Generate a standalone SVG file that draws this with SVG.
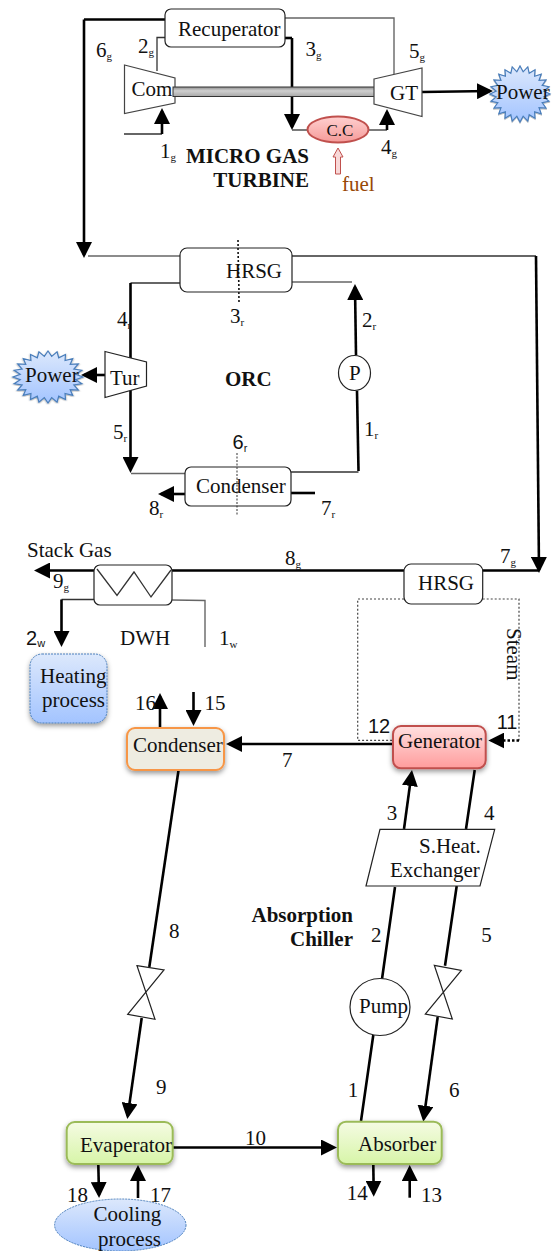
<svg xmlns="http://www.w3.org/2000/svg" width="552" height="1251" viewBox="0 0 552 1251">
<style>
text{font-family:"Liberation Serif","Times New Roman",serif;font-size:21px;fill:#111}
.b{font-weight:bold}
.s{font-family:"Liberation Sans",Arial,sans-serif;font-size:20px}
.sub{font-size:11px}
.box{fill:#fff;stroke:#222;stroke-width:1.2}
.th{fill:none;stroke:#333;stroke-width:1.3}
.gr{fill:none;stroke:#666;stroke-width:1.4}
.tk{fill:none;stroke:#000;stroke-width:2.6}
.ar{marker-end:url(#h)}
.dot{fill:none;stroke:#444;stroke-width:1.2;stroke-dasharray:2 2}
.star{fill:url(#bl);stroke:#4a7ebb;stroke-width:1.2;filter:url(#sh)}
</style>
<defs>
<marker id="h" markerUnits="userSpaceOnUse" markerWidth="16" markerHeight="16" refX="13" refY="8" orient="auto"><path d="M0,0L16,8L0,16z" fill="#000"/></marker>
<linearGradient id="bl" x1="0" y1="0" x2="0" y2="1"><stop offset="0" stop-color="#dce8fc"/><stop offset="1" stop-color="#a3c4ff"/></linearGradient>
<linearGradient id="gn" x1="0" y1="0" x2="0" y2="1"><stop offset="0" stop-color="#f5fbe3"/><stop offset="1" stop-color="#d7f5a8"/></linearGradient>
<linearGradient id="rd" x1="0" y1="0" x2="0" y2="1"><stop offset="0" stop-color="#ffe0e0"/><stop offset="1" stop-color="#ff9c9c"/></linearGradient>
<linearGradient id="cc" x1="0" y1="0" x2="0" y2="1"><stop offset="0" stop-color="#ffd0d0"/><stop offset="1" stop-color="#f59a98"/></linearGradient>
<linearGradient id="sf" x1="0" y1="0" x2="0" y2="1"><stop offset="0" stop-color="#8c8c8c"/><stop offset=".4" stop-color="#d0d0d0"/><stop offset="1" stop-color="#a8a8a8"/></linearGradient>
<filter id="sh" x="-20%" y="-20%" width="140%" height="150%"><feDropShadow dx="0" dy="2.5" stdDeviation="2.5" flood-color="#000" flood-opacity=".4"/></filter>
<polygon id="st" vector-effect="non-scaling-stroke" points="100,0 79.3,10.5 96.6,25.9 73.9,30.6 86.6,50 63.4,48.7 70.7,70.7 48.7,63.4 50,86.6 30.6,73.9 25.9,96.6 10.5,79.3 0,100 -10.5,79.3 -25.9,96.6 -30.6,73.9 -50,86.6 -48.7,63.4 -70.7,70.7 -63.4,48.7 -86.6,50 -73.9,30.6 -96.6,25.9 -79.3,10.5 -100,0 -79.3,-10.5 -96.6,-25.9 -73.9,-30.6 -86.6,-50 -63.4,-48.7 -70.7,-70.7 -48.7,-63.4 -50,-86.6 -30.6,-73.9 -25.9,-96.6 -10.5,-79.3 0,-100 10.5,-79.3 25.9,-96.6 30.6,-73.9 50,-86.6 48.7,-63.4 70.7,-70.7 63.4,-48.7 86.6,-50 73.9,-30.6 96.6,-25.9 79.3,-10.5"/>
</defs>

<g id="connectors">
<path class="tk ar" d="M84,19.5H165M84,19.5V255"/>
<path class="gr" d="M285,18H394V74"/>
<path class="th" d="M165,37.5H157V71"/>
<path class="tk" d="M285,38H292"/>
<path class="tk ar" d="M292,38V127"/>
<path class="th" d="M292,130H308"/>
<path class="tk ar" d="M422,92L490,91"/>
<path class="th" d="M369,130H387"/>
<path class="tk ar" d="M387,130V112"/>
<path class="th" d="M124,134H162"/>
<path class="tk ar" d="M162,134V111"/>
<path class="gr" d="M88,256H180"/>
<path class="th" d="M292,256H536"/>
<path class="tk ar" d="M536,256L539,570"/>
<path class="gr" d="M292,282H352"/>
<path class="tk ar" d="M356,355L355,287"/>
<path class="tk" d="M357,391L358.5,471"/>
<path class="th" d="M358.5,472L291,472"/>
<path class="th" d="M180,283H130.5"/>
<path class="tk" d="M130.5,283V358"/>
<path class="tk ar" d="M130.5,390V470"/>
<path class="gr" d="M131,473.5H185"/>
<path class="tk ar" d="M105,375H84"/>
<path class="tk ar" d="M185,494H161"/>
<path class="tk" d="M291,493H315"/>
<path class="tk ar" d="M94,570.5H37"/>
<path class="tk" d="M172,570.5H404M482,570.5H539"/>
<path class="th" d="M94,599.5H61.5"/>
<path class="tk ar" d="M61.5,599.5V644"/>
<path class="gr" d="M172,600L205,600.5V647"/>
<path class="tk ar" d="M160,728V696"/>
<path class="tk ar" d="M193.5,692V723"/>
<path class="tk ar" d="M393,744H229"/>
<path class="dot" d="M404,599H357.7V740.3H393M482.7,599H519V740.5"/>
<path class="tk ar" style="stroke-dasharray:2.5 2" d="M519,740.5H491.3"/>
<path class="tk" d="M179,767L149.3,967"/>
<path class="tk ar" d="M141.7,1018L127.7,1116"/>
<path class="tk ar" d="M172,1147.5H334"/>
<path class="tk ar" d="M98.3,1164L99,1195"/>
<path class="tk ar" d="M138,1198V1168"/>
<path class="tk" d="M361,1121L373.3,1035M382,979L395,887"/>
<path class="tk ar" d="M404,829L411.6,773"/>
<path class="tk" d="M466,829L474.7,770M456.7,886L445,965.7"/>
<path class="tk ar" d="M437.7,1017L423.7,1118.7"/>
<path class="tk ar" d="M373.3,1164L373.7,1193.7"/>
<path class="tk ar" d="M409.7,1197.7V1168"/>
<path d="M238,240L239,302" fill="none" stroke="#111" stroke-width="1.6" stroke-dasharray="2 2"/>
<path d="M237,453V516" fill="none" stroke="#555" stroke-width="1.2" stroke-dasharray="2 1.5"/>
</g>

<g id="compressor"><polygon class="box" style="stroke:#444" points="124.5,65 175,78 175,103 124.5,113.5"/><text x="131.5" y="96">Com</text></g>
<g id="shaft"><rect x="173" y="87" width="202" height="9.5" fill="url(#sf)" stroke="#333" stroke-width="1"/></g>
<g id="recuperator"><rect class="box" x="165" y="9" width="120" height="38" rx="6"/><text x="178" y="36">Recuperator</text></g>
<g id="gas-turbine"><polygon class="box" style="stroke:#444" points="374,79 422,68 422,116.5 374,104"/><text x="390" y="100">GT</text></g>
<g id="power-1"><use href="#st" class="star" transform="translate(520,94) scale(.3,.28)"/><text x="496" y="99">Power</text></g>
<g id="combustion-chamber"><ellipse cx="338" cy="129.5" rx="30.5" ry="13" fill="url(#cc)" stroke="#c0504d" stroke-width="2"/><text x="326.5" y="136" style="font-size:17px">C.C</text></g>
<g id="fuel"><path d="M335.5,174V157H333L338,148L343,157H340.5V174z" fill="#f8d8d8" stroke="#c0504d" stroke-width="1"/><text x="342" y="191" style="fill:#984807">fuel</text></g>
<text class="b" x="309" y="163" text-anchor="end">MICRO GAS</text>
<text class="b" x="309" y="187" text-anchor="end">TURBINE</text>

<g id="hrsg-orc"><rect class="box" x="180" y="248" width="112" height="44" rx="7"/></g>
<path d="M238,248L239,292" fill="none" stroke="#111" stroke-width="1.6" stroke-dasharray="2 2"/>
<text x="226" y="278">HRSG</text>
<g id="turbine-orc"><polygon class="box" points="105,351.5 146.5,362 146.5,386 105,397.5"/><text x="110" y="385">Tur</text></g>
<g id="power-2"><use href="#st" class="star" transform="translate(48,377) scale(.35,.26)"/><text x="25" y="382">Power</text></g>
<g id="pump-orc"><ellipse class="box" cx="354.5" cy="373" rx="16" ry="17.5"/><text x="349" y="380">P</text></g>
<g id="condenser-orc"><rect class="box" x="185" y="467" width="106" height="39" rx="6"/></g>
<path d="M237,467V506" fill="none" stroke="#555" stroke-width="1.2" stroke-dasharray="2 1.5"/>
<text x="196" y="493">Condenser</text>
<text class="b" x="225" y="386">ORC</text>

<g id="dwh"><rect class="box" x="94" y="565" width="78" height="40" rx="6"/><path class="th" d="M97,569L117,595.5L134,572L151,597L171,570"/><text x="120" y="645">DWH</text></g>
<g id="heating"><rect x="30" y="654" width="77" height="69" rx="12" fill="url(#bl)" stroke="#4a7ebb" stroke-width="1" stroke-dasharray="2 1" filter="url(#sh)"/><text x="40" y="683">Heating</text><text x="42" y="707">process</text></g>
<g id="hrsg-chiller"><rect class="box" x="404" y="564" width="78.7" height="40" rx="7"/><text x="418" y="590">HRSG</text></g>
<g id="condenser"><rect x="127" y="728" width="97" height="42" rx="8" fill="#eeece1" stroke="#f79646" stroke-width="2" filter="url(#sh)"/><text x="133" y="752">Condenser</text></g>
<g id="generator"><rect x="393" y="726" width="92.7" height="42.3" rx="8" fill="url(#rd)" stroke="#c0504d" stroke-width="2" filter="url(#sh)"/><text x="398" y="748">Generator</text></g>
<g id="exchanger"><polygon class="box" points="380,829.3 494.7,829.3 480,886 366,886"/><text x="419" y="852.7">S.Heat.</text><text x="390" y="877">Exchanger</text></g>
<g id="pump"><ellipse class="box" cx="380" cy="1007" rx="30" ry="28.5"/><text x="359" y="1013">Pump</text></g>
<g id="valve-1"><polygon class="box" points="137,965.7 164,970 127.7,1014.3 155,1019.3"/></g>
<g id="valve-2"><polygon class="box" points="434.3,965.3 461.3,970.3 425.3,1014 452.3,1019"/></g>
<g id="evaporator"><rect x="66.7" y="1122" width="106" height="42" rx="8" fill="url(#gn)" stroke="#9bbb59" stroke-width="2" filter="url(#sh)"/><text x="80" y="1151.7">Evaperator</text></g>
<g id="absorber"><rect x="338" y="1121.7" width="103.7" height="42.3" rx="8" fill="url(#gn)" stroke="#9bbb59" stroke-width="2" filter="url(#sh)"/><text x="358" y="1150.7">Absorber</text></g>
<g id="cooling"><ellipse cx="120.3" cy="1225" rx="65.7" ry="26" fill="url(#bl)" stroke="#4a7ebb" stroke-width="1" stroke-dasharray="2 1"/><text x="93.5" y="1221">Cooling</text><text x="98" y="1246">process</text></g>

<g id="labels">
<text x="96" y="57">6<tspan class="sub" dy="3">g</tspan></text>
<text x="138" y="53">2<tspan class="sub" dy="3">g</tspan></text>
<text x="305.5" y="56">3<tspan class="sub" dy="3">g</tspan></text>
<text x="409" y="58">5<tspan class="sub" dy="3">g</tspan></text>
<text x="381" y="154">4<tspan class="sub" dy="3">g</tspan></text>
<text x="160" y="158">1<tspan class="sub" dy="3">g</tspan></text>
<text x="230" y="322.6">3<tspan class="sub" dy="3">r</tspan></text>
<text x="117" y="325.7">4<tspan class="sub" dy="3">r</tspan></text>
<text x="362" y="327">2<tspan class="sub" dy="3">r</tspan></text>
<text x="113" y="439">5<tspan class="sub" dy="3">r</tspan></text>
<text x="364" y="436">1<tspan class="sub" dy="3">r</tspan></text>
<text class="s" x="232.5" y="449">6<tspan class="sub" dy="3">r</tspan></text>
<text x="149" y="515">8<tspan class="sub" dy="3">r</tspan></text>
<text x="321" y="515">7<tspan class="sub" dy="3">r</tspan></text>
<text x="27" y="557">Stack Gas</text>
<text x="53" y="588">9<tspan class="sub" dy="3">g</tspan></text>
<text x="285" y="565">8<tspan class="sub" dy="3">g</tspan></text>
<text x="500" y="563">7<tspan class="sub" dy="3">g</tspan></text>
<text class="s" x="26" y="645">2<tspan class="sub" dy="2">w</tspan></text>
<text x="219" y="645">1<tspan class="sub" dy="3">w</tspan></text>
<text x="135" y="710">16</text>
<text x="204.5" y="710">15</text>
<text class="s" x="368" y="733">12</text>
<text class="s" x="496.7" y="729">11</text>
<text x="282" y="767">7</text>
<text x="386.7" y="820">3</text>
<text x="484" y="820">4</text>
<text x="371" y="941.7">2</text>
<text x="481.3" y="941.7">5</text>
<text x="169" y="938">8</text>
<text x="156" y="1094">9</text>
<text x="347.7" y="1096.7">1</text>
<text x="449" y="1096.7">6</text>
<text x="245" y="1145">10</text>
<text x="67" y="1201.7">18</text>
<text x="150" y="1201.7">17</text>
<text x="346.7" y="1200">14</text>
<text x="421" y="1201.7">13</text>
<text class="b" x="353" y="922" text-anchor="end">Absorption</text>
<text class="b" x="353" y="946" text-anchor="end">Chiller</text>
<text transform="translate(507,628) rotate(90)">Steam</text>
</g>
</svg>
